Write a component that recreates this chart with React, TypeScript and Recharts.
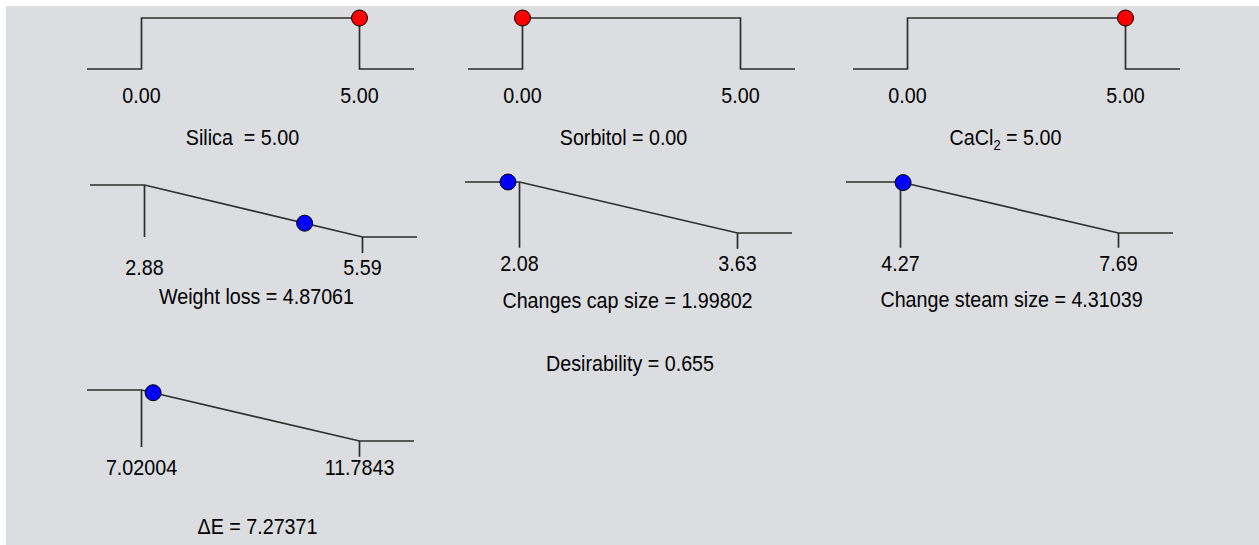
import React from 'react';
import { ComposedChart, Line, XAxis, YAxis, ReferenceLine } from 'recharts';

// ---- data ----
const inputNames = ['Silica ', 'Sorbitol', 'CaCl2'];
const inputLows = [0, 0, 0];
const inputHighs = [5, 5, 5];
const inputValues = [5.0, 0.0, 5.0];
const inputLowLabels = ['0.00', '0.00', '0.00'];
const inputHighLabels = ['5.00', '5.00', '5.00'];
const inputValueLabels = ['5.00', '0.00', '5.00'];

const responseNames = ['Weight loss', 'Changes cap size', 'Change steam size', 'ΔE'];
const responseLows = [2.88, 2.08, 4.27, 7.02004];
const responseHighs = [5.59, 3.63, 7.69, 11.7843];
const responseValues = [4.87061, 1.99802, 4.31039, 7.27371];
const responseLowLabels = ['2.88', '2.08', '4.27', '7.02004'];
const responseHighLabels = ['5.59', '3.63', '7.69', '11.7843'];
const responseValueLabels = ['4.87061', '1.99802', '4.31039', '7.27371'];
const desirabilityLabel = 'Desirability = 0.655';

// ---- layout (page pixel positions) ----
const inputLayout = [
  { x0: 87, top: 18, span: 51, labelDy: 26, titleDy: 68, titleDx: -8 },
  { x0: 468, top: 18, span: 51, labelDy: 26, titleDy: 68, titleDx: -8 },
  { x0: 853, top: 18, span: 51, labelDy: 26, titleDy: 68, titleDx: -11 },
];
const responseLayout = [
  { x0: 90, top: 185, span: 52, lowEnd: 0, highEnd: -0.31, labelDy: 31, titleDy: 60, titleDx: 3 },
  { x0: 465, top: 182, span: 51, lowEnd: -0.29, highEnd: -0.31, labelDy: 31, titleDy: 68, titleDx: -1 },
  { x0: 846, top: 182, span: 51, lowEnd: -0.29, highEnd: -0.29, labelDy: 31, titleDy: 67, titleDx: 2 },
  { x0: 87, top: 390, span: 51, lowEnd: -0.12, highEnd: -0.31, labelDy: 27, titleDy: 86, titleDx: 7 },
];

const BG = '#dcdde0';
const LINE = '#2e2e2e';
const FONT = '"Liberation Sans", Arial, sans-serif';
const FS = 19.7;
const TXT = '#000000';
const ML = 10;
const MT = 10;
const PLOT_W = 327;
const AXIS_H = 140;
const BASE = 7.5; // baseline offset from visual center
const STRETCH = 1.09;

type PanelProps = {
  x0: number; top: number; span: number; dmin: number;
  low: number; high: number; value: number; dval: number;
  path: { x: number; y: number }[];
  segs: { x: number; y1: number; y2: number }[];
  lowLabel: string; highLabel: string;
  title: React.ReactNode;
  dotColor: string;
  labelDy: number; titleDy: number; titleDx: number;
  extra?: { text: string; dx: number; dy: number };
};

const textStyle = { fontFamily: FONT, fontSize: FS, fill: TXT, whiteSpace: 'pre' as const };

function T({ x, y, children }: { x: number; y: number; children: React.ReactNode }) {
  return (
    <g transform={`translate(${x},${y}) scale(1,${STRETCH})`}>
      <text x={0} y={0} textAnchor="middle" style={textStyle}>
        {children}
      </text>
    </g>
  );
}

function Panel(p: PanelProps) {
  const plotH = p.span * (1 - p.dmin);
  const W = PLOT_W + 2 * ML;
  const H = MT + plotH + AXIS_H;
  const zeroY = MT + p.span;
  const pad = (p.high - p.low) * 0.25;
  const cx = ML + PLOT_W / 2;
  return (
    <div style={{ position: 'absolute', left: p.x0 - 6 - ML, top: p.top - 6 - MT }}>
      <ComposedChart width={W} height={H} margin={{ top: MT, right: ML, bottom: 0, left: ML }}>
        <XAxis
          type="number"
          dataKey="x"
          domain={[p.low - pad, p.high + pad]}
          ticks={[p.low, p.high]}
          interval={0}
          axisLine={false}
          tickLine={false}
          height={AXIS_H}
          tick={(tp: any) => (
            <T x={tp.x} y={zeroY + p.labelDy + BASE}>
              {tp.payload.value === p.low ? p.lowLabel : p.highLabel}
            </T>
          )}
          label={() => (
            <g>
              <T x={cx + p.titleDx} y={zeroY + p.titleDy + BASE}>{p.title}</T>
              {p.extra ? (
                <T x={cx + p.extra.dx} y={zeroY + p.extra.dy + BASE}>{p.extra.text}</T>
              ) : null}
            </g>
          )}
        />
        <YAxis hide type="number" dataKey="y" domain={[p.dmin, 1]} />
        {p.segs.map((s, i) => (
          <ReferenceLine
            key={i}
            segment={[{ x: s.x, y: s.y1 }, { x: s.x, y: s.y2 }]}
            stroke={LINE}
            strokeWidth={1.7}
          />
        ))}
        <Line
          data={p.path}
          dataKey="y"
          type="linear"
          stroke={LINE}
          strokeWidth={1.7}
          dot={false}
          activeDot={false}
          isAnimationActive={false}
        />
        <Line
          data={[{ x: p.value, y: p.dval }]}
          dataKey="y"
          stroke="none"
          dot={{ r: 8, fill: p.dotColor, stroke: '#000', strokeWidth: 1 }}
          activeDot={false}
          isAnimationActive={false}
        />
      </ComposedChart>
    </div>
  );
}

function inputTitle(i: number) {
  if (inputNames[i] === 'CaCl2') {
    return (
      <>
        <tspan>CaCl</tspan>
        <tspan fontSize={13} dy={5}>2</tspan>
        <tspan dy={-5}>{' = ' + inputValueLabels[i]}</tspan>
      </>
    );
  }
  return inputNames[i] + ' = ' + inputValueLabels[i];
}

export default function App() {
  const panels: PanelProps[] = [];
  inputNames.forEach((_, i) => {
    const lo = inputLows[i];
    const hi = inputHighs[i];
    const pad = (hi - lo) * 0.25;
    const L = inputLayout[i];
    panels.push({
      x0: L.x0, top: L.top, span: L.span, dmin: 0,
      low: lo, high: hi, value: inputValues[i], dval: 1,
      path: [
        { x: lo - pad, y: 0 }, { x: lo, y: 0 }, { x: lo, y: 1 },
        { x: hi, y: 1 }, { x: hi, y: 0 }, { x: hi + pad, y: 0 },
      ],
      segs: [],
      lowLabel: inputLowLabels[i], highLabel: inputHighLabels[i],
      title: inputTitle(i),
      dotColor: '#ff0000',
      labelDy: L.labelDy, titleDy: L.titleDy, titleDx: L.titleDx,
    });
  });
  responseNames.forEach((name, i) => {
    const lo = responseLows[i];
    const hi = responseHighs[i];
    const pad = (hi - lo) * 0.25;
    const L = responseLayout[i];
    const v = responseValues[i];
    const dval = Math.max(0, Math.min(1, (hi - v) / (hi - lo)));
    panels.push({
      x0: L.x0, top: L.top, span: L.span, dmin: -0.31,
      low: lo, high: hi, value: v, dval,
      path: [{ x: lo - pad, y: 1 }, { x: lo, y: 1 }, { x: hi, y: 0 }, { x: hi + pad, y: 0 }],
      segs: [
        { x: lo, y1: 1, y2: L.lowEnd },
        { x: hi, y1: 0, y2: L.highEnd },
      ],
      lowLabel: responseLowLabels[i], highLabel: responseHighLabels[i],
      title: name + ' = ' + responseValueLabels[i],
      dotColor: '#0000ff',
      labelDy: L.labelDy, titleDy: L.titleDy, titleDx: L.titleDx,
      extra: i === 1 ? { text: desirabilityLabel, dx: 1.5, dy: 131 } : undefined,
    });
  });

  return (
    <div
      style={{
        position: 'absolute', left: 6, top: 6, width: 1253, height: 539,
        background: BG, overflow: 'hidden',
      }}
    >
      {panels.map((p, i) => (
        <Panel key={i} {...p} />
      ))}
    </div>
  );
}
